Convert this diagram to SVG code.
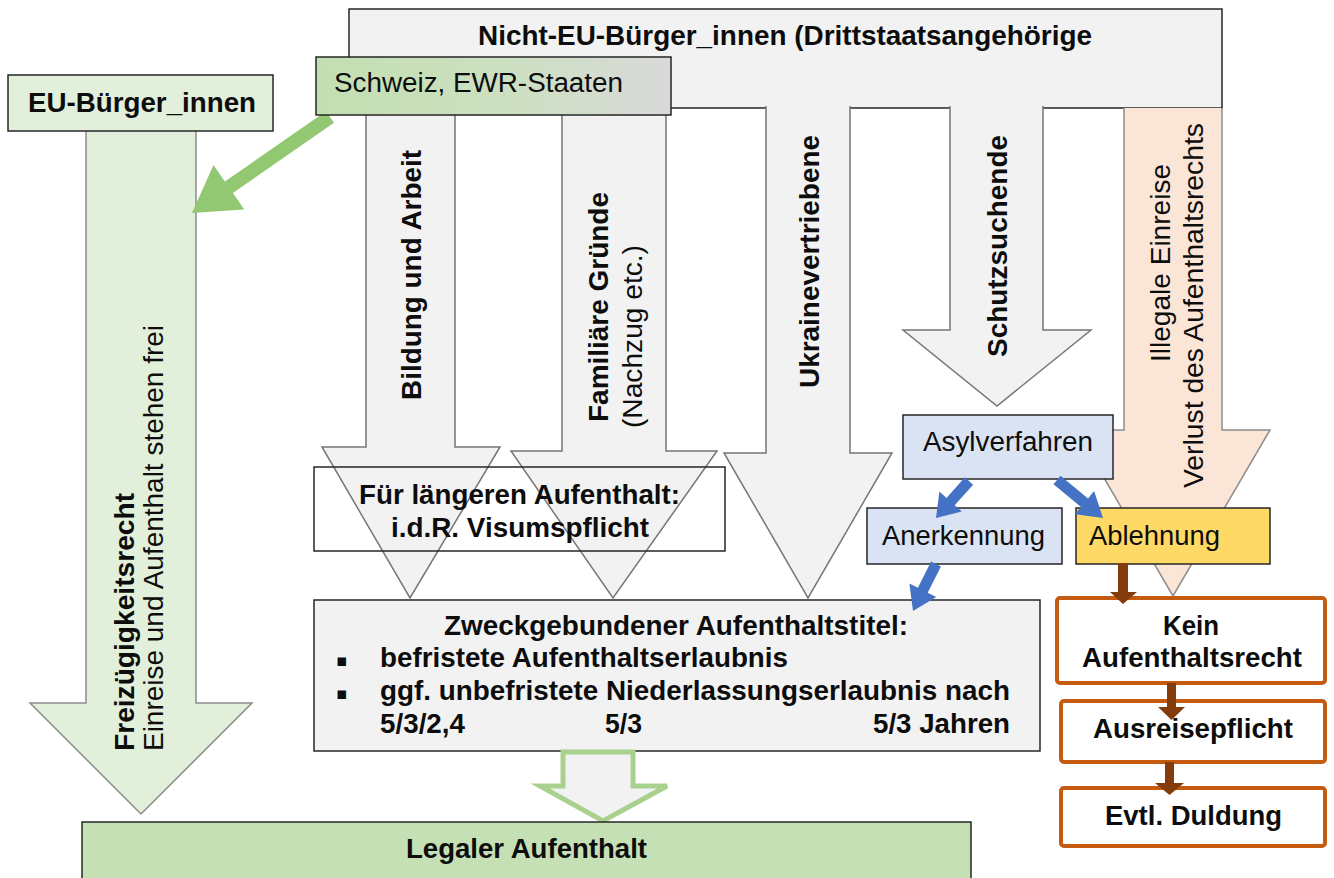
<svg xmlns="http://www.w3.org/2000/svg" width="1334" height="878" viewBox="0 0 1334 878">
<defs>
  <linearGradient id="gSchweiz" x1="0" y1="0" x2="1" y2="0">
    <stop offset="0" stop-color="#c3dfb0"/>
    <stop offset="0.55" stop-color="#cde0c2"/>
    <stop offset="1" stop-color="#d9d9d9"/>
  </linearGradient>
</defs>
<style>
  text { font-family: "Liberation Sans", Arial, sans-serif; font-size: 27px; fill: #0d0d0d; }
  .b { font-weight: bold; }
  .box { stroke: #262626; stroke-width: 1.5; }
  .garrow { fill: #f2f2f2; stroke: #767676; stroke-width: 1.5; }
  .orng { stroke: #c55a11; stroke-width: 4; fill: #ffffff; }
  .blue { fill: #4472c4; }
  .brown { fill: #843c0c; }
  .bul { font-family: "DejaVu Sans", sans-serif; font-size: 17px; }
</style>

<g id="nicht-eu">
  <rect x="349" y="9" width="873" height="99" fill="#f2f2f2" class="box"/>
  <text class="b" x="478" y="45" textLength="614" lengthAdjust="spacingAndGlyphs">Nicht-EU-Bürger_innen (Drittstaatsangehörige</text>
</g>

<g id="eu-arrow">
  <path d="M86,131 L86,703 L30,703 L141,814 L252,703 L196,703 L196,131" fill="#e2efda" stroke="#8c8c8c" stroke-width="1.5"/>
  <g transform="translate(134,751) rotate(-90)">
    <text class="b" x="0" y="0" textLength="258" lengthAdjust="spacingAndGlyphs">Freizügigkeitsrecht</text>
  </g>
  <g transform="translate(163,751) rotate(-90)">
    <text x="0" y="0" textLength="426" lengthAdjust="spacingAndGlyphs">Einreise und Aufenthalt stehen frei</text>
  </g>
</g>

<g id="eu-buerger">
  <rect x="8" y="75" width="265" height="56" fill="#e2efda" class="box"/>
  <text class="b" x="28" y="112" textLength="228" lengthAdjust="spacingAndGlyphs">EU-Bürger_innen</text>
</g>

<g id="bildung">
  <path d="M366,106 L366,447 L322,447 L410,598 L500,447 L455,447 L455,106" class="garrow"/>
  <g transform="translate(421,400) rotate(-90)">
    <text class="b" x="0" y="0" textLength="250" lengthAdjust="spacingAndGlyphs">Bildung und Arbeit</text>
  </g>
</g>

<g id="familie">
  <path d="M562,106 L562,451 L511,451 L613,598 L717,451 L666,451 L666,106" class="garrow"/>
  <g transform="translate(608,422) rotate(-90)">
    <text class="b" x="0" y="0" textLength="230" lengthAdjust="spacingAndGlyphs">Familiäre Gründe</text>
  </g>
  <g transform="translate(642,428) rotate(-90)">
    <text x="0" y="0" textLength="183" lengthAdjust="spacingAndGlyphs">(Nachzug etc.)</text>
  </g>
</g>

<g id="ukraine">
  <path d="M766,106 L766,453 L724,453 L808,598 L892,453 L850,453 L850,106" class="garrow"/>
  <g transform="translate(819,388) rotate(-90)">
    <text class="b" x="0" y="0" textLength="253" lengthAdjust="spacingAndGlyphs">Ukrainevertriebene</text>
  </g>
</g>

<g id="schutz">
  <path d="M950,106 L950,330 L903,330 L997,406 L1091,330 L1043,330 L1043,106" class="garrow"/>
  <g transform="translate(1007,357) rotate(-90)">
    <text class="b" x="0" y="0" textLength="222" lengthAdjust="spacingAndGlyphs">Schutzsuchende</text>
  </g>
</g>

<g id="illegal">
  <path d="M1124,108 L1124,430 L1076,430 L1173,596 L1270,430 L1222,430 L1222,108" fill="#fbe5d6" stroke="#8c8c8c" stroke-width="1.5"/>
  <g transform="translate(1170,362) rotate(-90)">
    <text x="0" y="0" textLength="198" lengthAdjust="spacingAndGlyphs">Illegale Einreise</text>
  </g>
  <g transform="translate(1203,488) rotate(-90)">
    <text x="0" y="0" textLength="365" lengthAdjust="spacingAndGlyphs">Verlust des Aufenthaltsrechts</text>
  </g>
</g>

<g id="connectors">
  <polygon points="326,111.3 224.9,181.5 213.5,165.1 192,213 244.3,209.5 232.9,193 334,122.7" fill="#93c872"/>
</g>

<g id="schweiz">
  <rect x="316" y="57" width="355" height="58" fill="url(#gSchweiz)" class="box"/>
  <text x="334" y="92" textLength="289" lengthAdjust="spacingAndGlyphs">Schweiz, EWR-Staaten</text>
</g>

<g id="visum">
  <rect x="314" y="467" width="411" height="84" fill="none" class="box"/>
  <text class="b" x="359" y="504" textLength="321" lengthAdjust="spacingAndGlyphs">Für längeren Aufenthalt:</text>
  <text class="b" x="391" y="537" textLength="258" lengthAdjust="spacingAndGlyphs">i.d.R. Visumspflicht</text>
</g>

<g id="zweck">
  <rect x="314" y="600" width="726" height="151" fill="#f2f2f2" class="box"/>
  <text class="b" x="444" y="635" textLength="464" lengthAdjust="spacingAndGlyphs">Zweckgebundener Aufenthaltstitel:</text>
  <text class="bul" x="336" y="666">▪</text>
  <text class="b" x="380" y="667" textLength="408" lengthAdjust="spacingAndGlyphs">befristete Aufenthaltserlaubnis</text>
  <text class="bul" x="336" y="699">▪</text>
  <text class="b" x="380" y="700" textLength="630" lengthAdjust="spacingAndGlyphs">ggf. unbefristete Niederlassungserlaubnis nach</text>
  <text class="b" x="380" y="733" textLength="85" lengthAdjust="spacingAndGlyphs">5/3/2,4</text>
  <text class="b" x="605" y="733" textLength="37" lengthAdjust="spacingAndGlyphs">5/3</text>
  <text class="b" x="873" y="733" textLength="137" lengthAdjust="spacingAndGlyphs">5/3 Jahren</text>
</g>

<g id="legal-arrow">
  <path d="M563,752 L563,786 L540,786 L603,821 L667,786 L633,786 L633,752 Z" fill="#f2f2f2" stroke="#a9d18e" stroke-width="5" stroke-linejoin="miter"/>
</g>

<g id="legal">
  <rect x="82" y="822" width="889" height="70" fill="#c5e0b4" class="box"/>
  <text class="b" x="406" y="858" textLength="241" lengthAdjust="spacingAndGlyphs">Legaler Aufenthalt</text>
</g>

<g id="asyl">
  <rect x="903" y="415" width="210" height="64" fill="#dae3f3" class="box"/>
  <text x="923" y="451" textLength="170" lengthAdjust="spacingAndGlyphs">Asylverfahren</text>
</g>

<g id="anerkennung">
  <rect x="867" y="508" width="195" height="56" fill="#dae3f3" class="box"/>
  <text x="882" y="545" textLength="163" lengthAdjust="spacingAndGlyphs">Anerkennung</text>
</g>

<g id="ablehnung">
  <rect x="1076" y="508" width="194" height="56" fill="#ffd966" class="box"/>
  <text x="1089" y="545" textLength="131" lengthAdjust="spacingAndGlyphs">Ablehnung</text>
</g>

<g id="kein">
  <rect x="1057" y="598" width="268" height="85" rx="3" class="orng"/>
  <text class="b" x="1163" y="635" textLength="56" lengthAdjust="spacingAndGlyphs">Kein</text>
  <text class="b" x="1082" y="667" textLength="220" lengthAdjust="spacingAndGlyphs">Aufenthaltsrecht</text>
</g>

<g id="ausreise">
  <rect x="1061" y="701" width="264" height="61" rx="3" class="orng"/>
  <text class="b" x="1093" y="738" textLength="200" lengthAdjust="spacingAndGlyphs">Ausreisepflicht</text>
</g>

<g id="duldung">
  <rect x="1061" y="788" width="264" height="58" rx="3" class="orng"/>
  <text class="b" x="1105" y="825" textLength="177" lengthAdjust="spacingAndGlyphs">Evtl. Duldung</text>
</g>

<g id="connectors-2">
  <polygon class="blue" points="964.9,477.3 946.5,498 939.4,491.6 936,518 961.8,511.6 954.7,505.3 973.1,484.7"/>
  <polygon class="blue" points="1060.5,475.8 1088,498.5 1094.1,491.1 1103,518 1074.9,514.3 1081,506.9 1053.5,484.2"/>
  <polygon class="blue" points="931.1,561.5 917.9,587.8 909.4,583.6 913,611 936.2,597 927.7,592.8 940.9,566.5"/>
  <polygon class="brown" points="1118,563 1118,592 1110,592 1123,604 1137,592 1128,592 1128,563"/>
  <polygon class="brown" points="1167,683 1167,707 1158,707 1171.5,720 1185,707 1176,707 1176,683"/>
  <polygon class="brown" points="1165,762 1165,783 1155,783 1169.5,795 1184,783 1174,783 1174,762"/>
</g>
</svg>
